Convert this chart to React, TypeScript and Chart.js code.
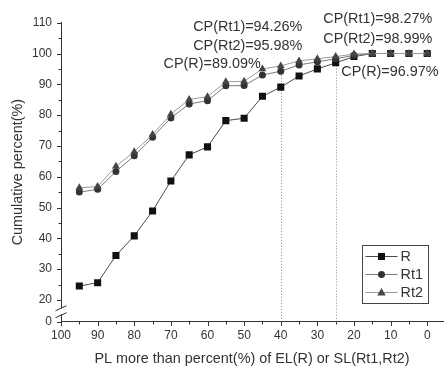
import { useEffect, useRef } from 'react';
import { Chart, registerables } from 'chart.js';

Chart.register(...registerables);

// ---------- data ----------
const X_VALUES = [95, 90, 85, 80, 75, 70, 65, 60, 55, 50, 45, 40, 35, 30, 25, 20, 15, 10, 5, 0];
const R_VALUES = [24.5, 25.6, 34.4, 40.8, 48.9, 58.6, 67.1, 69.7, 78.2, 79.0, 86.1, 89.09, 92.7, 95.0, 96.97, 99.0, 100, 100, 100, 100];
const RT1_VALUES = [55.0, 55.9, 61.7, 66.8, 72.8, 79.1, 83.6, 84.7, 89.5, 89.6, 93.0, 94.26, 96.3, 97.3, 98.27, 99.4, 100, 100, 100, 100];
const RT2_VALUES = [56.4, 56.8, 63.4, 68.1, 73.7, 80.3, 85.1, 86.0, 90.8, 91.0, 95.0, 95.98, 97.6, 98.3, 98.99, 99.8, 100, 100, 100, 100];
const SERIES_NAMES = ['R', 'Rt1', 'Rt2'];

const X_TICK_VALUES = [100, 90, 80, 70, 60, 50, 40, 30, 20, 10, 0];
const X_TICK_LABELS = ['100', '90', '80', '70', '60', '50', '40', '30', '20', '10', '0'];
const X_MINOR_TICKS = [95, 85, 75, 65, 55, 45, 35, 25, 15, 5];
const Y_TICK_VALUES = [0, 20, 30, 40, 50, 60, 70, 80, 90, 100, 110];
const Y_TICK_LABELS = ['0', '20', '30', '40', '50', '60', '70', '80', '90', '100', '110'];
const Y_MINOR_TICKS = [25, 35, 45, 55, 65, 75, 85, 95, 105];

const MARK_X = [40, 25];
const ANNOTATION_TEXTS = [
  'CP(Rt1)=94.26%',
  'CP(Rt2)=95.98%',
  'CP(R)=89.09%',
  'CP(Rt1)=98.27%',
  'CP(Rt2)=98.99%',
  'CP(R)=96.97%',
];

const X_TITLE = 'PL more than percent(%) of EL(R) or SL(Rt1,Rt2)';
const Y_TITLE = 'Cumulative percent(%)';

// ---------- layout / style ----------
const W = 448;
const H = 367;
const X_AXIS_MIN = -4.3;
const Y_AXIS_MIN = 13; // broken axis: "0" sits at the bottom
const FONT = 'Arial, "Liberation Sans", sans-serif';
const TEXT_COLOR = '#333';
const ANNOTATION_ANCHORS = [
  { x: 63.9, y: 108.6 },
  { x: 63.9, y: 102.3 },
  { x: 72.0, y: 96.6 },
  { x: 28.4, y: 111.1 },
  { x: 28.4, y: 104.6 },
  { x: 23.45, y: 94.1 },
];
const SERIES_STYLES = [
  { line: '#4a4a4a', fill: '#111', point: 'rect', radius: 5 },
  { line: '#7a7a7a', fill: '#333', point: 'circle', radius: 3.5 },
  { line: '#9a9a9a', fill: '#444', point: 'triangle', radius: 4.5 },
];
const LEGEND_BOX = { x: 362.5, y: 245.5, w: 66, h: 58 };

function drawMarker(ctx: CanvasRenderingContext2D, style: string, x: number, y: number, color: string) {
  ctx.fillStyle = color;
  ctx.beginPath();
  if (style === 'rect') {
    ctx.rect(x - 3.5, y - 3.5, 7, 7);
  } else if (style === 'circle') {
    ctx.arc(x, y, 3.5, 0, Math.PI * 2);
  } else {
    ctx.moveTo(x, y - 4.5);
    ctx.lineTo(x + 4.2, y + 3);
    ctx.lineTo(x - 4.2, y + 3);
    ctx.closePath();
  }
  ctx.fill();
}

const extrasPlugin = {
  id: 'extras',
  beforeDatasetsDraw(chart: any) {
    const { ctx, scales } = chart;
    const xs = scales.x;
    const ys = scales.y;
    // dotted vertical markers
    ctx.save();
    ctx.strokeStyle = '#8a8a8a';
    ctx.lineWidth = 1;
    ctx.setLineDash([1, 2]);
    MARK_X.forEach((v) => {
      const i = X_VALUES.indexOf(v);
      const top = Math.max(R_VALUES[i], RT1_VALUES[i], RT2_VALUES[i]);
      const px = Math.round(xs.getPixelForValue(v)) + 0.5;
      ctx.beginPath();
      ctx.moveTo(px, ys.getPixelForValue(top));
      ctx.lineTo(px, ys.bottom);
      ctx.stroke();
    });
    ctx.restore();
    // annotations
    ctx.save();
    ctx.fillStyle = TEXT_COLOR;
    ctx.font = `14.4px ${FONT}`;
    ctx.textAlign = 'left';
    ctx.textBaseline = 'middle';
    ANNOTATION_TEXTS.forEach((t, i) => {
      const a = ANNOTATION_ANCHORS[i];
      ctx.fillText(t, xs.getPixelForValue(a.x), ys.getPixelForValue(a.y));
    });
    ctx.restore();
  },
  afterDraw(chart: any) {
    const { ctx, scales } = chart;
    const xs = scales.x;
    const ys = scales.y;
    ctx.save();
    ctx.strokeStyle = '#333';
    ctx.lineWidth = 1;
    // x ticks (outward, down)
    const xb = Math.round(ys.bottom);
    const drawXTick = (v: number, len: number) => {
      const px = Math.round(xs.getPixelForValue(v)) + 0.5;
      ctx.beginPath();
      ctx.moveTo(px, xb);
      ctx.lineTo(px, xb + len);
      ctx.stroke();
    };
    X_TICK_VALUES.forEach((v) => drawXTick(v, 4));
    X_MINOR_TICKS.forEach((v) => drawXTick(v, 2.5));
    // y ticks (outward, left)
    const yl = Math.round(xs.left);
    const drawYTick = (v: number, len: number) => {
      const py = Math.round(ys.getPixelForValue(v)) + 0.5;
      ctx.beginPath();
      ctx.moveTo(yl, py);
      ctx.lineTo(yl - len, py);
      ctx.stroke();
    };
    Y_TICK_VALUES.forEach((v) => drawYTick(v === 0 ? Y_AXIS_MIN : v, 4));
    Y_MINOR_TICKS.forEach((v) => drawYTick(v, 2.5));
    // axis break
    const y20 = ys.getPixelForValue(20);
    const yBot = ys.bottom;
    const mid = (y20 + yBot) / 2 + 0.5;
    ctx.fillStyle = '#fff';
    ctx.fillRect(yl - 2, mid - 3, 4, 6);
    ctx.beginPath();
    ctx.moveTo(yl - 5.5, mid - 0.5);
    ctx.lineTo(yl + 5.5, mid - 5.5);
    ctx.moveTo(yl - 5.5, mid + 6.5);
    ctx.lineTo(yl + 5.5, mid + 1.5);
    ctx.stroke();
    ctx.restore();

    // legend
    ctx.save();
    const b = LEGEND_BOX;
    ctx.strokeStyle = '#444';
    ctx.lineWidth = 1;
    ctx.strokeRect(b.x, b.y, b.w, b.h);
    ctx.font = `14.4px ${FONT}`;
    ctx.textBaseline = 'middle';
    ctx.textAlign = 'left';
    SERIES_NAMES.forEach((name, i) => {
      const s = SERIES_STYLES[i];
      const cy = b.y + 10.5 + i * 18;
      ctx.strokeStyle = s.line;
      ctx.beginPath();
      ctx.moveTo(b.x + 3, cy + 0.5);
      ctx.lineTo(b.x + 35, cy + 0.5);
      ctx.stroke();
      drawMarker(ctx, s.point, b.x + 19, cy + 0.5, s.fill);
      ctx.fillStyle = TEXT_COLOR;
      ctx.fillText(name, b.x + 38, cy + 1);
    });
    ctx.restore();
  },
};

export default function App() {
  const ref = useRef<HTMLCanvasElement>(null);
  useEffect(() => {
    document.body.style.margin = '0';
    Chart.defaults.font.family = FONT;
    const seriesValues = [R_VALUES, RT1_VALUES, RT2_VALUES];
    const datasets = SERIES_NAMES.map((name, i) => {
      const s = SERIES_STYLES[i];
      return {
        label: name,
        data: X_VALUES.map((x, j) => ({ x, y: seriesValues[i][j] })),
        borderColor: s.line,
        borderWidth: 1,
        backgroundColor: s.fill,
        pointStyle: s.point,
        pointRadius: s.radius,
        pointBackgroundColor: s.fill,
        pointBorderColor: s.fill,
        pointBorderWidth: 0,
        tension: 0,
      };
    }).reverse();
    const chart = new Chart(ref.current!, {
      type: 'line',
      data: { datasets } as any,
      options: {
        animation: false,
        responsive: false,
        devicePixelRatio: 1,
        layout: { padding: { top: 22.7, right: 0, bottom: 0, left: 0 } },
        plugins: { legend: { display: false }, tooltip: { enabled: false } },
        scales: {
          x: {
            type: 'linear',
            reverse: true,
            min: X_AXIS_MIN,
            max: 100,
            afterBuildTicks: (s: any) => {
              s.ticks = X_TICK_VALUES.map((v) => ({ value: v }));
            },
            afterFit: (s: any) => {
              s.height = 45.5;
            },
            grid: { display: false, drawTicks: false },
            border: { display: true, color: '#333', width: 1 },
            ticks: {
              padding: 6.5,
              color: TEXT_COLOR,
              font: { size: 12 },
              autoSkip: false,
              maxRotation: 0,
              callback: (_v: any, i: number) => X_TICK_LABELS[i],
            },
            title: {
              display: true,
              text: X_TITLE,
              color: TEXT_COLOR,
              font: { size: 14.4, lineHeight: 1 },
              padding: { top: 0, bottom: 1 },
            },
          },
          y: {
            type: 'linear',
            min: Y_AXIS_MIN,
            max: 110,
            afterBuildTicks: (s: any) => {
              s.ticks = Y_TICK_VALUES.map((v) => ({ value: v === 0 ? Y_AXIS_MIN : v }));
            },
            afterFit: (s: any) => {
              s.width = 61;
            },
            grid: { display: false, drawTicks: false },
            border: { display: true, color: '#333', width: 1 },
            ticks: {
              padding: 9,
              color: TEXT_COLOR,
              font: { size: 12 },
              autoSkip: false,
              callback: (_v: any, i: number) => Y_TICK_LABELS[i],
            },
            title: {
              display: true,
              text: Y_TITLE,
              color: TEXT_COLOR,
              font: { size: 14.4, lineHeight: 1 },
              padding: { top: 11, bottom: 0 },
            },
          },
        },
      } as any,
      plugins: [extrasPlugin],
    });
    return () => chart.destroy();
  }, []);
  return (
    <div style={{ width: W, height: H, position: 'relative' }}>
      <canvas ref={ref} width={W} height={H} style={{ display: 'block' }} />
    </div>
  );
}
